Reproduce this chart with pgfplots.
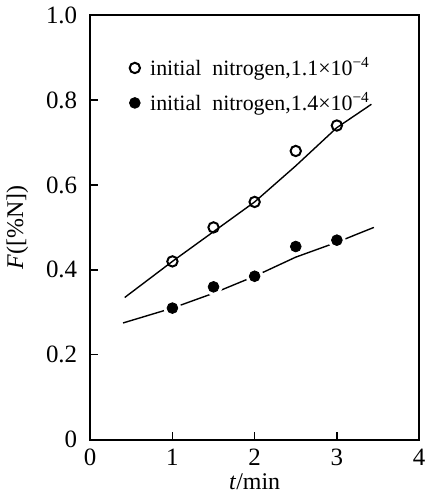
\documentclass[border=0pt]{standalone}
\usepackage{fontspec}
\setmainfont{Liberation Serif}
\usepackage{pgfplots}
\pgfplotsset{compat=1.18}

\begin{document}
\begin{tikzpicture}
\begin{axis}[
    width=165pt, height=213pt,
    scale only axis,
    xmin=0, xmax=4,
    ymin=0, ymax=1.0,
    xtick={0,1,2,3,4},
    ytick={0,0.2,0.4,0.6,0.8,1.0},
    yticklabels={0,0.2,0.4,0.6,0.8,1.0},
    tick align=inside,
    tick pos=left,
    major tick length=4pt,
    axis line style={line width=0.8pt},
    every tick/.style={line width=0.7pt, black},
    /pgf/number format/assume math mode=true,
    tick label style={font=\fontsize{12.5}{14}\selectfont},
    yticklabel style={xshift=-3pt},
    xticklabel style={yshift=-1pt},
    xlabel={\textit{t}/min},
    ylabel={\textit{F}([\%N])},
    label style={font=\fontsize{12}{14}\selectfont},
    xlabel style={yshift=3pt},
    ylabel style={yshift=2pt},
    legend style={at={(rel axis cs:0.1,0.92)}, anchor=north west, draw=none, fill=none,
        font=\fontsize{11}{13}\selectfont, row sep=3pt},
    legend cell align=left,
]
% fitted line, open symbols
\addplot[black, line width=0.7pt, forget plot] coordinates {(0.42,0.335) (1,0.42) (1.5,0.49) (2,0.56) (2.5,0.645) (3,0.735) (3.42,0.79)};
% fitted line, filled symbols
\addplot[black, line width=0.7pt, forget plot] coordinates {(0.4,0.275) (1,0.31) (1.5,0.345) (2,0.385) (2.5,0.43) (3,0.465) (3.45,0.50)};
% white halo around filled points (gaps in line)
\addplot[only marks, mark=*, mark size=4.2pt, white, forget plot] coordinates {(1,0.31) (1.5,0.36) (2,0.385) (2.5,0.455) (3,0.47)};
\addplot[only marks, mark=o, mark size=2.6pt, mark options={line width=1pt, fill=white}, black] coordinates {(1,0.42) (1.5,0.50) (2,0.56) (2.5,0.68) (3,0.74)};
\addlegendentry{\hspace{3pt}initial\ \ nitrogen,1.1×10\textsuperscript{−4}}
\addplot[only marks, mark=*, mark size=2.7pt, black] coordinates {(1,0.31) (1.5,0.36) (2,0.385) (2.5,0.455) (3,0.47)};
\addlegendentry{\hspace{3pt}initial\ \ nitrogen,1.4×10\textsuperscript{−4}}
\end{axis}
\end{tikzpicture}
\end{document}
